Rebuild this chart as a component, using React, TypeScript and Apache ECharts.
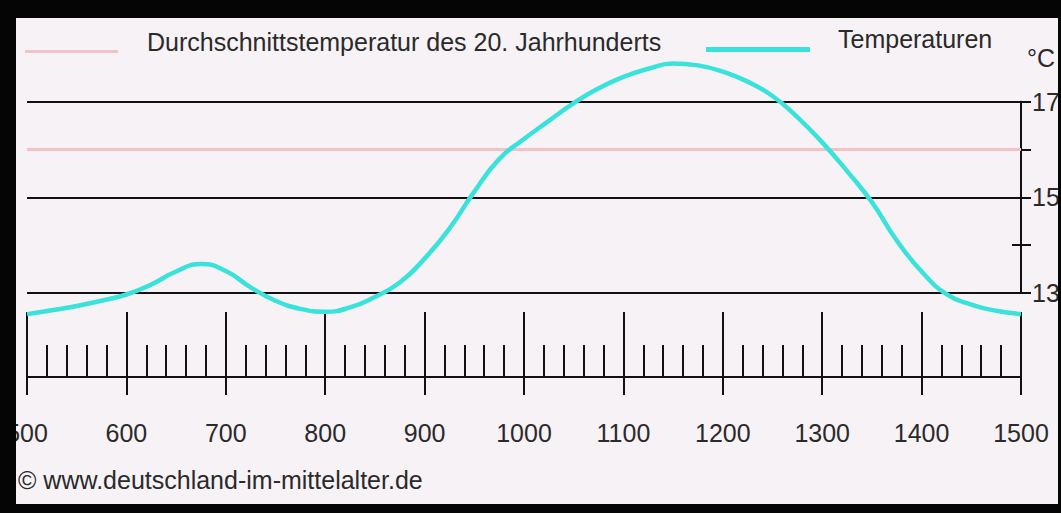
import React, { useEffect, useRef } from "react";
import * as echarts from "echarts";

// ---- data ----
const years = [500, 525, 550, 575, 600, 625, 650, 675, 700, 725, 750, 775, 800, 825, 850, 875, 900, 925, 950, 975, 1000, 1025, 1050, 1075, 1100, 1125, 1150, 1175, 1200, 1225, 1250, 1275, 1300, 1325, 1350, 1375, 1400, 1425, 1450, 1475, 1500];
const temps = [12.56, 12.64, 12.73, 12.84, 12.97, 13.18, 13.45, 13.61, 13.46, 13.12, 12.84, 12.67, 12.61, 12.7, 12.92, 13.22, 13.72, 14.35, 15.12, 15.8, 16.22, 16.6, 16.97, 17.28, 17.52, 17.69, 17.8, 17.76, 17.63, 17.42, 17.12, 16.68, 16.15, 15.55, 14.9, 14.1, 13.45, 12.98, 12.76, 12.63, 12.56];
const avgYears = [500, 1500];
const avgTemp = 16;
const avgName = "Durchschnittstemperatur des 20. Jahrhunderts";
const tempName = "Temperaturen";
const unitLabel = "°C";
const copyright = "© www.deutschland-im-mittelalter.de";
const yLabelValues = [13, 15, 17];

const FONT = "'Liberation Sans', Arial, Helvetica, sans-serif";
const FS = 25;
const BG = "#f7f2f5";
const INK = "#111";
const TXT = "#2a2a2a";
const CYAN = "#3ae2dc";
const PINK = "#f3c2c7";

export default function App() {
  const ref = useRef<HTMLDivElement>(null);
  useEffect(() => {
    if (!ref.current) return;
    const chart = echarts.init(ref.current, undefined, { renderer: "svg" });
    const gridBase = { left: 27, right: 40, outerBoundsMode: "none" } as any;
    const legendText = (padLeft: number, padBottom: number) => ({
      fontSize: FS,
      fontFamily: FONT,
      color: TXT,
      rich: { t: { fontSize: FS, fontFamily: FONT, color: TXT, padding: [0, 0, padBottom, padLeft] } },
    });
    chart.setOption({
      animation: false,
      backgroundColor: BG,
      grid: [
        { ...gridBase, top: 53.9, height: 287 },
        { ...gridBase, top: 101.7, height: 191.3 },
        { ...gridBase, top: 312, height: 65 },
      ],
      legend: [
        {
          data: [{ name: avgName, icon: "rect" }],
          left: 25,
          top: 29,
          padding: 0,
          itemWidth: 93,
          itemHeight: 3,
          selectedMode: false,
          formatter: "{t|{name}}",
          textStyle: legendText(24, 20),
        },
        {
          data: [{ name: tempName, icon: "rect" }],
          left: 706,
          top: 26,
          padding: 0,
          itemWidth: 104,
          itemHeight: 5,
          selectedMode: false,
          formatter: "{t|{name}}",
          textStyle: legendText(23, 22),
        },
      ],
      xAxis: [
        { gridIndex: 0, type: "value", min: 500, max: 1500, show: false },
        { gridIndex: 1, type: "value", min: 500, max: 1500, show: false },
        {
          gridIndex: 2,
          type: "value",
          position: "bottom",
          min: 500,
          max: 1500,
          interval: 100,
          axisLine: { show: true, lineStyle: { color: INK, width: 2 } },
          axisTick: { show: true, inside: true, length: 65, lineStyle: { color: INK, width: 2 } },
          minorTick: { show: true, splitNumber: 5, length: 32, lineStyle: { color: INK, width: 2 } },
          axisLabel: { show: false },
          splitLine: { show: false },
        },
        {
          gridIndex: 2,
          type: "value",
          position: "bottom",
          min: 500,
          max: 1500,
          interval: 100,
          axisLine: { show: false },
          axisTick: { show: true, inside: false, length: 18, lineStyle: { color: INK, width: 2 } },
          axisLabel: {
            show: true,
            margin: 43,
            fontSize: FS,
            fontFamily: FONT,
            color: TXT,
            showMinLabel: true,
            showMaxLabel: true,
            hideOverlap: false,
            formatter: (v: number) => String(v),
          },
          splitLine: { show: false },
        },
      ],
      yAxis: [
        { gridIndex: 0, type: "value", min: 12, max: 18, show: false },
        {
          gridIndex: 1,
          type: "value",
          position: "right",
          min: 13,
          max: 17,
          interval: 1,
          name: unitLabel,
          nameLocation: "end",
          nameGap: 44,
          nameTextStyle: { fontSize: FS, fontFamily: FONT, color: TXT, align: "left", verticalAlign: "middle", padding: [0, 0, 0, 6] },
          axisLine: { show: true, lineStyle: { color: INK, width: 2 } },
          axisTick: { show: true, inside: false, length: 10, lineStyle: { color: INK, width: 2 } },
          axisLabel: {
            show: true,
            margin: 11,
            fontSize: FS,
            fontFamily: FONT,
            color: TXT,
            customValues: yLabelValues,
          },
          splitLine: { show: true, lineStyle: { color: [INK, "rgba(0,0,0,0)"], width: 2 } },
        },
        {
          gridIndex: 1,
          type: "value",
          position: "right",
          min: 13,
          max: 17,
          interval: 1,
          axisLine: { show: false },
          axisTick: { show: true, inside: true, length: 9, customValues: [14], lineStyle: { color: INK, width: 2 } },
          axisLabel: { show: false },
          splitLine: { show: false },
        },
        { gridIndex: 2, type: "value", min: 0, max: 1, show: false },
      ],
      series: [
        {
          name: avgName,
          type: "line",
          xAxisIndex: 0,
          yAxisIndex: 0,
          data: avgYears.map((y) => [y, avgTemp]),
          symbol: "none",
          showSymbol: false,
          lineStyle: { color: PINK, width: 3 },
          itemStyle: { color: PINK },
          z: 2,
          silent: true,
        },
        {
          name: tempName,
          type: "line",
          xAxisIndex: 0,
          yAxisIndex: 0,
          data: years.map((y, i) => [y, temps[i]]),
          symbol: "none",
          showSymbol: false,
          smooth: 0.5,
          lineStyle: { color: CYAN, width: 4.5 },
          itemStyle: { color: CYAN },
          z: 3,
          silent: true,
        },
      ],
      graphic: [
        {
          type: "text",
          left: 18,
          top: 467,
          style: { text: copyright, fontSize: FS, fontFamily: FONT, fill: TXT },
          z: 50,
        },
        { type: "rect", shape: { x: 0, y: 0, width: 1061, height: 18 }, style: { fill: "#050505" }, z: 100 },
        { type: "rect", shape: { x: 0, y: 0, width: 16, height: 513 }, style: { fill: "#050505" }, z: 100 },
        { type: "rect", shape: { x: 0, y: 504, width: 1061, height: 9 }, style: { fill: "#050505" }, z: 100 },
        { type: "rect", shape: { x: 1058, y: 0, width: 3, height: 513 }, style: { fill: "#050505" }, z: 100 },
      ],
    } as any);
    return () => chart.dispose();
  }, []);
  return (
    <div
      ref={ref}
      style={{ position: "fixed", left: 0, top: 0, width: 1061, height: 513 }}
    />
  );
}
